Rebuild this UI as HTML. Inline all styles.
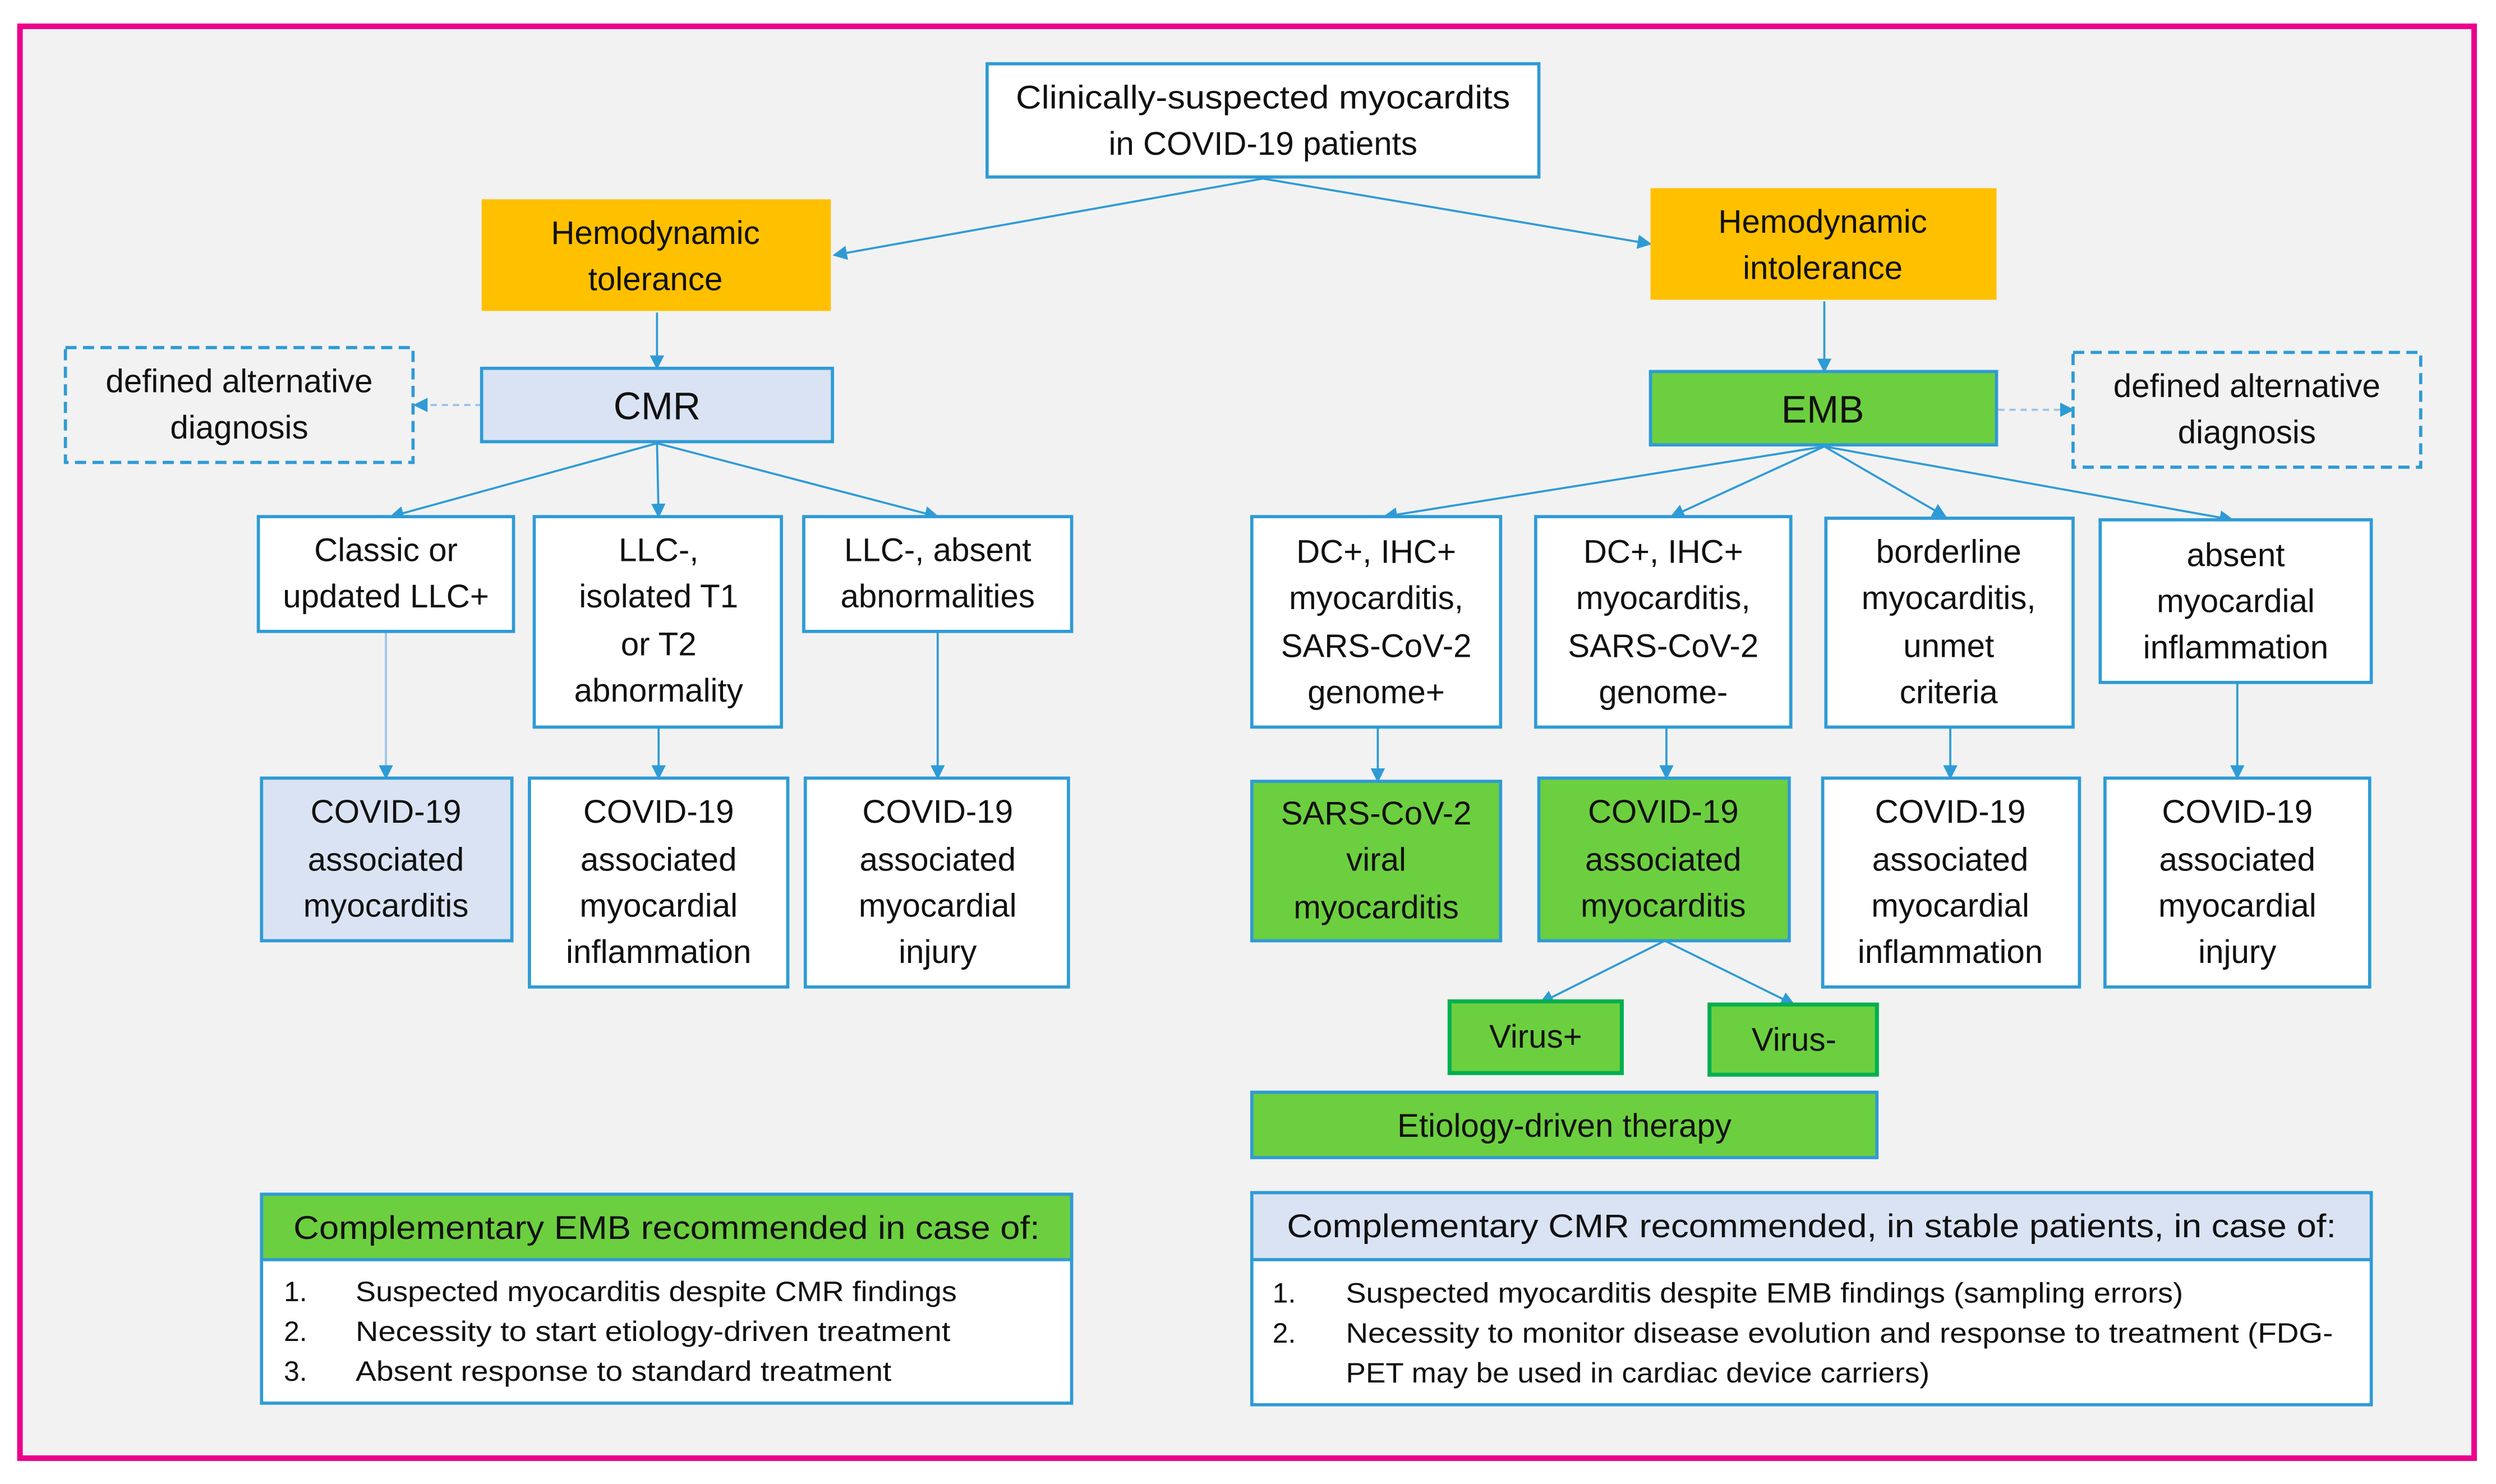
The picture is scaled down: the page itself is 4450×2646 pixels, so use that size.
<!DOCTYPE html>
<html><head><meta charset="utf-8"><style>
html,body{margin:0;padding:0;background:#fff;width:4450px;height:2646px;overflow:hidden}
svg{display:block}
text{font-family:"Liberation Sans",sans-serif;fill:#111}
</style></head><body>
<svg width="4450" height="2646" viewBox="0 0 1565.2 930.7" xmlns="http://www.w3.org/2000/svg">
<defs>
<marker id="a" viewBox="0 0 10 10" refX="9" refY="5" markerWidth="9" markerHeight="9" markerUnits="userSpaceOnUse" orient="auto"><path d="M0,0L10,5L0,10z" fill="#2e9bd6"/></marker>
</defs>
<rect x="0" y="0" width="1565.2" height="930.7" fill="#fff"/>
<rect x="12.5" y="16.5" width="1539" height="898" fill="#f2f2f2" stroke="#ec008c" stroke-width="3.5"/>
<g stroke="#2e9bd6" stroke-width="1.3" fill="none" marker-end="url(#a)">
<line x1="792" y1="112" x2="523" y2="160"/>
<line x1="792" y1="112" x2="1035" y2="153"/>
<line x1="412" y1="196" x2="412" y2="231"/>
<line x1="1144" y1="189" x2="1144" y2="233"/>
<line x1="302" y1="254" x2="260" y2="254" stroke-dasharray="4,3" stroke="#9dc3e6"/>
<line x1="1253" y1="257" x2="1300" y2="257" stroke-dasharray="4,3" stroke="#9dc3e6"/>
<line x1="412" y1="278" x2="245" y2="324"/>
<line x1="412" y1="278" x2="413" y2="324"/>
<line x1="412" y1="278" x2="588" y2="324"/>
<line x1="242" y1="396" x2="242" y2="488" stroke="#9dc3e6"/>
<line x1="413" y1="456" x2="413" y2="488"/>
<line x1="588" y1="396" x2="588" y2="488"/>
<line x1="1144" y1="280" x2="868" y2="324"/>
<line x1="1144" y1="280" x2="1048" y2="324"/>
<line x1="1144" y1="280" x2="1220" y2="324"/>
<line x1="1144" y1="280" x2="1400" y2="326"/>
<line x1="864" y1="456" x2="864" y2="490"/>
<line x1="1045" y1="456" x2="1045" y2="488"/>
<line x1="1223" y1="456" x2="1223" y2="488"/>
<line x1="1403" y1="428" x2="1403" y2="488"/>
<line x1="1044" y1="590" x2="966" y2="629"/>
<line x1="1044" y1="590" x2="1125" y2="630"/>
</g>
<g stroke="#2e9bd6" stroke-width="2">
<rect x="619" y="40" width="346" height="71" fill="#fff"/>
<rect x="302" y="125" width="219" height="70" fill="#ffc000" stroke="none"/>
<rect x="1035" y="118" width="217" height="70" fill="#ffc000" stroke="none"/>
<rect x="302" y="231" width="220" height="46" fill="#dae3f3"/>
<rect x="41" y="218" width="218" height="72" fill="none" stroke-dasharray="7,4"/>
<rect x="1035" y="233" width="217" height="46" fill="#6ccf3f"/>
<rect x="1300" y="221" width="218" height="72" fill="none" stroke-dasharray="7,4"/>
<rect x="162" y="324" width="160" height="72" fill="#fff"/>
<rect x="335" y="324" width="155" height="132" fill="#fff"/>
<rect x="504" y="324" width="168" height="72" fill="#fff"/>
<rect x="164" y="488" width="157" height="102" fill="#dae3f3"/>
<rect x="332" y="488" width="162" height="131" fill="#fff"/>
<rect x="505" y="488" width="165" height="131" fill="#fff"/>
<rect x="785" y="324" width="156" height="132" fill="#fff"/>
<rect x="963" y="324" width="160" height="132" fill="#fff"/>
<rect x="1145" y="325" width="155" height="131" fill="#fff"/>
<rect x="1317" y="326" width="170" height="102" fill="#fff"/>
<rect x="785" y="490" width="156" height="100" fill="#6ccf3f"/>
<rect x="965" y="488" width="157" height="102" fill="#6ccf3f"/>
<rect x="1143" y="488" width="161" height="131" fill="#fff"/>
<rect x="1320" y="488" width="166" height="131" fill="#fff"/>
<rect x="909" y="628" width="108" height="45" fill="#6ccf3f" stroke="#00b050" stroke-width="2.5"/>
<rect x="1072" y="630" width="105" height="44" fill="#6ccf3f" stroke="#00b050" stroke-width="2.5"/>
<rect x="785" y="685" width="392" height="41" fill="#6ccf3f"/>
<rect x="164" y="749" width="508" height="131" fill="#fff"/>
<rect x="164" y="749" width="508" height="41" fill="#6ccf3f"/>
<rect x="785" y="748" width="702" height="133" fill="#fff"/>
<rect x="785" y="748" width="702" height="42" fill="#dae3f3"/>
</g>
<g font-size="20.5" text-anchor="middle">
<text x="792" y="68" textLength="310" lengthAdjust="spacingAndGlyphs">Clinically-suspected myocardits</text>
<text x="792" y="97">in COVID-19 patients</text>
<text x="411" y="153">Hemodynamic</text><text x="411" y="182">tolerance</text>
<text x="1143" y="146">Hemodynamic</text><text x="1143" y="175">intolerance</text>
<text x="412" y="263" font-size="24">CMR</text>
<text x="1143" y="265" font-size="24">EMB</text>
<text x="150" y="246">defined alternative</text><text x="150" y="275">diagnosis</text>
<text x="1409" y="249">defined alternative</text><text x="1409" y="278">diagnosis</text>
<text x="242" y="352">Classic or</text><text x="242" y="381">updated LLC+</text>
<text x="413" y="352">LLC-,</text><text x="413" y="381">isolated T1</text><text x="413" y="411">or T2</text><text x="413" y="440">abnormality</text>
<text x="588" y="352">LLC-, absent</text><text x="588" y="381">abnormalities</text>
<text x="242" y="516">COVID-19</text><text x="242" y="546">associated</text><text x="242" y="575">myocarditis</text>
<text x="413" y="516">COVID-19</text><text x="413" y="546">associated</text><text x="413" y="575">myocardial</text><text x="413" y="604">inflammation</text>
<text x="588" y="516">COVID-19</text><text x="588" y="546">associated</text><text x="588" y="575">myocardial</text><text x="588" y="604">injury</text>
<text x="863" y="353">DC+, IHC+</text><text x="863" y="382">myocarditis,</text><text x="863" y="412">SARS-CoV-2</text><text x="863" y="441">genome+</text>
<text x="1043" y="353">DC+, IHC+</text><text x="1043" y="382">myocarditis,</text><text x="1043" y="412">SARS-CoV-2</text><text x="1043" y="441">genome-</text>
<text x="1222" y="353">borderline</text><text x="1222" y="382">myocarditis,</text><text x="1222" y="412">unmet</text><text x="1222" y="441">criteria</text>
<text x="1402" y="355">absent</text><text x="1402" y="384">myocardial</text><text x="1402" y="413">inflammation</text>
<text x="863" y="517">SARS-CoV-2</text><text x="863" y="546">viral</text><text x="863" y="576">myocarditis</text>
<text x="1043" y="516">COVID-19</text><text x="1043" y="546">associated</text><text x="1043" y="575">myocarditis</text>
<text x="1223" y="516">COVID-19</text><text x="1223" y="546">associated</text><text x="1223" y="575">myocardial</text><text x="1223" y="604">inflammation</text>
<text x="1403" y="516">COVID-19</text><text x="1403" y="546">associated</text><text x="1403" y="575">myocardial</text><text x="1403" y="604">injury</text>
<text x="963" y="657">Virus+</text>
<text x="1125" y="659">Virus-</text>
<text x="981" y="713">Etiology-driven therapy</text>
<text x="418" y="777" textLength="468" lengthAdjust="spacingAndGlyphs">Complementary EMB recommended in case of:</text>
<text x="1136" y="776" textLength="658" lengthAdjust="spacingAndGlyphs">Complementary CMR recommended,  in stable patients, in case of:</text>
</g>
<g font-size="17.5">
<text x="178" y="816">1.</text><text x="223" y="816" textLength="377" lengthAdjust="spacingAndGlyphs">Suspected myocarditis despite CMR findings</text>
<text x="178" y="841">2.</text><text x="223" y="841" textLength="373" lengthAdjust="spacingAndGlyphs">Necessity to start etiology-driven treatment</text>
<text x="178" y="866">3.</text><text x="223" y="866" textLength="336" lengthAdjust="spacingAndGlyphs">Absent response to standard treatment</text>
<text x="798" y="817">1.</text><text x="844" y="817" textLength="525" lengthAdjust="spacingAndGlyphs">Suspected myocarditis despite EMB findings (sampling errors)</text>
<text x="798" y="842">2.</text><text x="844" y="842" textLength="619" lengthAdjust="spacingAndGlyphs">Necessity to monitor disease evolution and response to treatment (FDG-</text>
<text x="844" y="867" textLength="366" lengthAdjust="spacingAndGlyphs">PET may be used in cardiac device carriers)</text>
</g>
</svg>
</body></html>
